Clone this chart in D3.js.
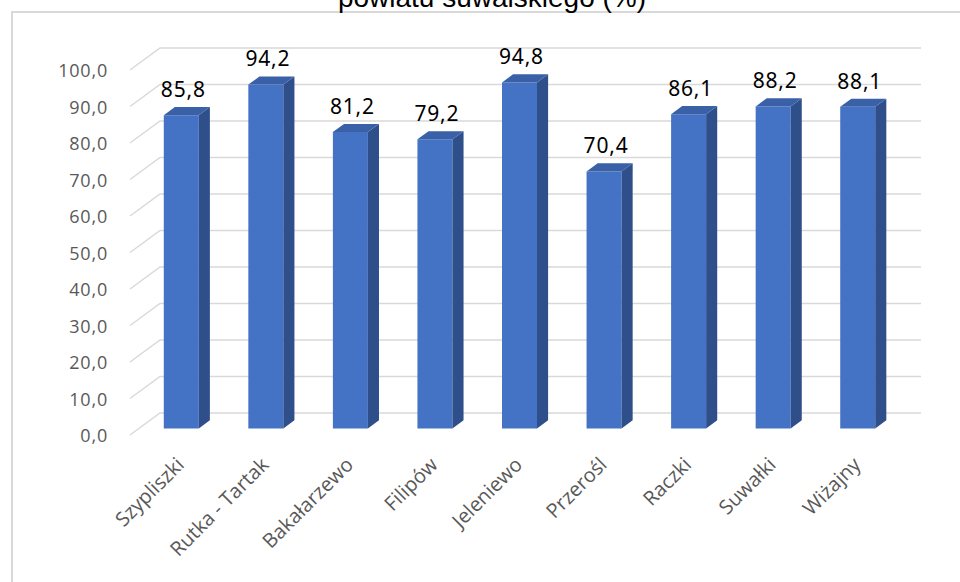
<!DOCTYPE html>
<html>
<head>
<meta charset="utf-8">
<script src="https://cdn.jsdelivr.net/npm/d3@7"></script>
<style>
  body { margin: 0; background: #fff; }
  svg { display: block; }
</style>
</head>
<body>
<div id="chart"></div>
<script>
var gminy = ["Szypliszki", "Rutka - Tartak", "Bakałarzewo", "Filipów", "Jeleniewo", "Przerośl", "Raczki", "Suwałki", "Wiżajny"];
var wartosci = [85.8, 94.2, 81.2, 79.2, 94.8, 70.4, 86.1, 88.2, 88.1];
var ticki = [0, 10, 20, 30, 40, 50, 60, 70, 80, 90, 100];

var width = 960, height = 582;

var svg = d3.select("#chart").append("svg")
    .attr("width", width)
    .attr("height", height);

// floor front edge, depth vector of the 3D box
var x0 = 130, x1 = 891, yFloor = 435;
var depthX = 30, depthY = -22;
var tFront = 0.3, tBack = 0.67;

var x = d3.scaleBand()
    .domain(gminy)
    .range([x0, x1])
    .paddingInner(0.586)
    .paddingOuter(0.293);

var y = d3.scaleLinear()
    .domain([0, 100])
    .range([0, 365]);

function pt(px, v, t) {
    return [px + depthX * t, yFloor + depthY * t - y(v)];
}

var fmt = function(v) { return d3.format(".1f")(v).replace(".", ","); };

// outer frame
svg.append("rect")
    .attr("x", 12).attr("y", 12)
    .attr("width", 980).attr("height", 600)
    .attr("fill", "none")
    .attr("stroke", "#d9d9d9")
    .attr("stroke-width", 2);

// title (only the bottom line is visible)
svg.append("text")
    .attr("x", 492).attr("y", 7)
    .attr("text-anchor", "middle")
    .style("font-family", "Liberation Sans, Arial, sans-serif")
    .style("font-size", "28px")
    .attr("fill", "#000")
    .text("powiatu suwalskiego (%)");

// gridlines: side wall diagonal + back wall
var grid = svg.append("g").attr("stroke", "#d9d9d9").attr("stroke-width", 1.5).attr("fill", "none");
ticki.forEach(function(v) {
    var a = pt(x0, v, 0), b = pt(x0, v, 1), c = pt(x1, v, 1);
    grid.append("path").attr("d", "M" + a + "L" + b + "L" + c);
});

// y tick labels
svg.append("g").selectAll("text")
    .data(ticki)
    .enter().append("text")
    .attr("x", x0 - 22)
    .attr("y", function(d) { return pt(x0, d, 0)[1] + 1; })
    .attr("dy", "0.36em")
    .attr("text-anchor", "end")
    .attr("fill", "#595959")
    .style("font-family", "Open Sans, sans-serif")
    .style("font-size", "18px")
    .style("letter-spacing", "0.8px")
    .text(fmt);

// bars
var bars = svg.append("g").selectAll("g")
    .data(gminy)
    .enter().append("g");

function poly(points) { return "M" + points.join("L") + "Z"; }

bars.append("path") // front
    .attr("fill", "#4472c4")
    .attr("d", function(d, i) {
        var l = x(d), r = x(d) + x.bandwidth(), v = wartosci[i];
        return poly([pt(l, 0, tFront), pt(r, 0, tFront), pt(r, v, tFront), pt(l, v, tFront)]);
    });

bars.append("path") // side
    .attr("fill", "#2e4f8a")
    .attr("d", function(d, i) {
        var r = x(d) + x.bandwidth(), v = wartosci[i];
        return poly([pt(r, 0, tFront), pt(r, 0, tBack), pt(r, v, tBack), pt(r, v, tFront)]);
    });

bars.append("path") // top
    .attr("fill", "#3a61a8")
    .attr("d", function(d, i) {
        var l = x(d), r = x(d) + x.bandwidth(), v = wartosci[i];
        return poly([pt(l, v, tFront), pt(r, v, tFront), pt(r, v, tBack), pt(l, v, tBack)]);
    });

// data labels
bars.append("text")
    .attr("x", function(d) { return pt(x(d) + x.bandwidth() / 2, 0, tFront)[0] + 2; })
    .attr("y", function(d, i) { return pt(0, wartosci[i], tBack)[1] - 10; })
    .attr("text-anchor", "middle")
    .attr("fill", "#000")
    .style("font-family", "Noto Sans, sans-serif")
    .style("font-size", "21px")
    .style("letter-spacing", "0.8px")
    .text(function(d, i) { return fmt(wartosci[i]); });

// category labels
svg.append("g").selectAll("text")
    .data(gminy)
    .enter().append("text")
    .attr("transform", function(d) {
        var cx = pt(x(d) + x.bandwidth() / 2, 0, tFront)[0] + 4;
        return "translate(" + cx + ",466) rotate(-45)";
    })
    .attr("text-anchor", "end")
    .attr("fill", "#595959")
    .style("font-family", "Open Sans, sans-serif")
    .style("font-size", "20px")
    .text(function(d) { return d; });
</script>
</body>
</html>
